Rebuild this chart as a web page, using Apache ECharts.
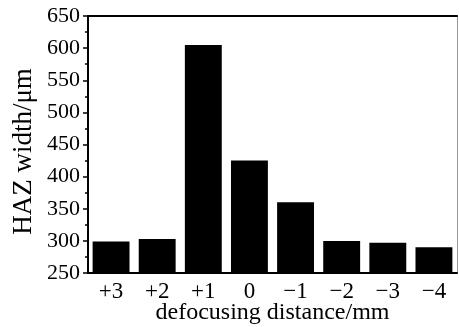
<!DOCTYPE html>
<html>
<head>
<meta charset="utf-8">
<script src="https://cdn.jsdelivr.net/npm/echarts@6/dist/echarts.min.js"></script>
<style>
  html, body { margin: 0; padding: 0; background: #fff; }
  #chart { width: 459px; height: 327px; }
</style>
</head>
<body>
<div id="chart"></div>
<script>
const categories = ['+3', '+2', '+1', '0', '\u22121', '\u22122', '\u22123', '\u22124'];
const hazWidth = [299, 303, 605, 425, 360, 300, 297, 290];

const font = 'Liberation Serif';
const chart = echarts.init(document.getElementById('chart'), null, { renderer: 'canvas' });

chart.setOption({
  animation: false,
  grid: { left: 88, top: 16, right: 2, bottom: 54, outerBoundsMode: 'none', containLabel: false },
  xAxis: [
    {
      type: 'category',
      data: categories,
      position: 'bottom',
      name: 'defocusing distance/mm',
      nameLocation: 'middle',
      nameGap: 28,
      nameMoveOverlap: false,
      nameTextStyle: { fontFamily: font, fontSize: 24, color: '#000' },
      axisLine: { lineStyle: { color: '#000', width: 2 } },
      axisTick: { alignWithLabel: true, inside: false, length: 5, lineStyle: { color: '#000', width: 1.5 } },
      axisLabel: { fontFamily: font, fontSize: 23, color: '#000', margin: 7 },
      splitLine: { show: false }
    },
    {
      // boundary ticks between categories
      type: 'category',
      data: categories,
      position: 'bottom',
      axisLine: { show: false },
      axisTick: { length: 3, lineStyle: { color: '#000', width: 1.5 } },
      axisLabel: { show: false },
      splitLine: { show: false }
    },
    {
      type: 'category',
      data: categories,
      position: 'top',
      axisLine: { lineStyle: { color: '#000', width: 2 } },
      axisTick: { show: false },
      axisLabel: { show: false },
      splitLine: { show: false }
    }
  ],
  yAxis: [
    {
      type: 'value',
      min: 250,
      max: 650,
      interval: 50,
      name: 'HAZ width/\u03bcm',
      nameLocation: 'middle',
      nameGap: 51,
      nameMoveOverlap: false,
      nameRotate: 90,
      nameTextStyle: { fontFamily: font, fontSize: 27, color: '#000', padding: [0, 14, 0, 0] },
      axisLine: { show: true, lineStyle: { color: '#000', width: 2 } },
      axisTick: { show: true, length: 5, lineStyle: { color: '#000', width: 1.5 } },
      minorTick: { show: true, splitNumber: 2, length: 3, lineStyle: { color: '#000', width: 1.5 } },
      axisLabel: { fontFamily: font, fontSize: 22, color: '#000', margin: 8 },
      splitLine: { show: false }
    },
    {
      type: 'value',
      min: 250,
      max: 650,
      interval: 50,
      position: 'right',
      axisLine: { show: true, lineStyle: { color: '#999', width: 1 } },
      axisTick: { show: false },
      axisLabel: { show: false },
      splitLine: { show: false }
    }
  ],
  series: [
    {
      type: 'bar',
      data: hazWidth,
      xAxisIndex: 0,
      yAxisIndex: 0,
      barCategoryGap: '20%',
      itemStyle: { color: '#000' }
    }
  ]
});
</script>
</body>
</html>
